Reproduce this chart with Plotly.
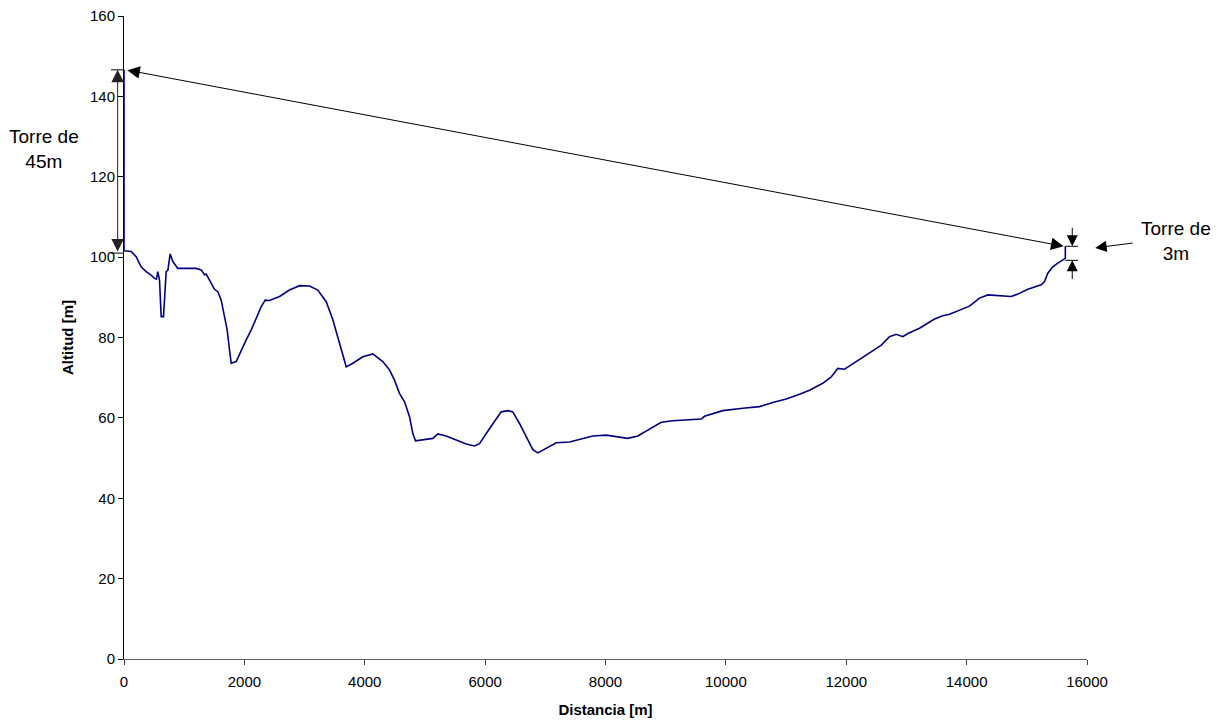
import plotly.graph_objects as go

# ---- data ----
distance_m = [
    0, 119, 202, 285, 368, 450, 507, 540, 562, 590, 618, 656, 701, 729, 767, 811,
    894, 1033, 1200, 1283, 1338, 1366, 1421, 1504, 1559, 1615, 1670, 1714, 1753,
    1781, 1864, 1947, 2030, 2114, 2197, 2280, 2346, 2418, 2584, 2750, 2916, 3082,
    3220, 3360, 3470, 3581, 3692, 3802, 3968, 4134, 4190, 4300, 4412, 4494, 4577,
    4661, 4744, 4799, 4843, 4965, 5131, 5214, 5353, 5520, 5686, 5824, 5907, 6018,
    6156, 6267, 6377, 6460, 6571, 6683, 6793, 6876, 7015, 7181, 7402, 7568, 7789,
    8011, 8178, 8371, 8537, 8731, 8926, 9118, 9400, 9590, 9645, 9949, 10282, 10559,
    10780, 11002, 11224, 11390, 11610, 11750, 11860, 11971, 12165, 12387, 12582,
    12719, 12830, 12941, 13024, 13217, 13328, 13467, 13604, 13716, 14048, 14214,
    14352, 14546, 14740, 14851, 15017, 15239, 15294, 15349, 15432, 15515, 15598,
    15640,
]
altitude_m = [
    101.6, 101.4, 100.1, 97.6, 96.4, 95.5, 94.7, 94.5, 96.4, 94.3, 85.2, 85.2, 96.4,
    96.8, 100.8, 98.9, 97.2, 97.2, 97.2, 96.8, 95.6, 95.8, 94.3, 92.0, 91.4, 89.3,
    85.2, 81.9, 76.9, 73.6, 74.0, 76.9, 79.4, 81.9, 84.8, 87.7, 89.3, 89.2, 90.2,
    91.8, 92.9, 92.8, 91.8, 88.9, 84.4, 78.5, 72.7, 73.6, 75.2, 75.9, 75.2, 74.0,
    71.9, 69.4, 66.1, 64.0, 60.3, 56.1, 54.3, 54.5, 54.9, 56.0, 55.5, 54.5, 53.5,
    53.0, 53.6, 56.1, 59.0, 61.5, 61.8, 61.5, 58.6, 55.3, 52.1, 51.3, 52.4, 53.8,
    54.0, 54.6, 55.5, 55.7, 55.3, 54.9, 55.5, 57.2, 58.9, 59.3, 59.6, 59.7, 60.4,
    61.8, 62.4, 62.8, 63.8, 64.7, 65.9, 66.9, 68.6, 70.2, 72.3, 72.1, 74.0, 76.1,
    78.1, 80.2, 80.8, 80.2, 81.0, 82.3, 83.4, 84.6, 85.4, 85.8, 87.8, 89.8, 90.6,
    90.4, 90.2, 90.8, 92.0, 93.1, 93.9, 96.0, 97.6, 98.5, 99.3, 99.7,
]
tower_left_m = 45
tower_right_m = 3
x_ticks = [0, 2000, 4000, 6000, 8000, 10000, 12000, 14000, 16000]
y_ticks = [0, 20, 40, 60, 80, 100, 120, 140, 160]
label_left = "Torre de<br>45m"
label_right = "Torre de<br>3m"
x_title = "Distancia [m]"
y_title = "Altitud [m]"

# ---- derived ----
d0, dN = distance_m[0], distance_m[-1]
a0, aN = altitude_m[0], altitude_m[-1]
top_left = a0 + tower_left_m
top_right = aN + tower_right_m

xs = [d0] + distance_m + [dN]
ys = [top_left] + altitude_m + [top_right]

FONT = "Liberation Sans, Arial, sans-serif"
NAVY = "#000080"

fig = go.Figure()
fig.add_trace(go.Scatter(x=xs, y=ys, mode="lines",
                         line=dict(color=NAVY, width=1.6), showlegend=False,
                         hoverinfo="skip"))

ann = []
# long line between tower tops
ann.append(dict(x=dN - 30, y=top_right, xref="x", yref="y",
                ax=d0 + 30, ay=top_left, axref="x", ayref="y",
                showarrow=True, arrowhead=2, arrowsize=2.5, arrowwidth=1,
                arrowside="end+start", arrowcolor="black", text=""))
# left tower double arrow
ann.append(dict(x=-0.0066, y=top_left, xref="paper", yref="y",
                ax=0, ay=a0 - 0.6, axref="pixel", ayref="y",
                showarrow=True, arrowhead=2, arrowsize=2.5, arrowwidth=1,
                arrowside="end+start", arrowcolor="#222222", text=""))
# right tower small arrows
ann.append(dict(x=dN + 115, y=top_right, xref="x", yref="y",
                ax=0, ay=-20, showarrow=True, arrowhead=2, arrowsize=2.2,
                arrowwidth=1, arrowcolor="black", text=""))
ann.append(dict(x=dN + 115, y=aN - 0.5, xref="x", yref="y",
                ax=0, ay=20, showarrow=True, arrowhead=2, arrowsize=2.2,
                arrowwidth=1, arrowcolor="black", text=""))
# pointer to right tower
ann.append(dict(x=1.0085, y=top_right - 0.4, xref="paper", yref="y",
                ax=39, ay=-5, showarrow=True, arrowhead=2, arrowsize=2.3,
                arrowwidth=1, arrowcolor="black", text=""))
# labels
ann.append(dict(x=-0.0826, y=127.0, xref="paper", yref="y", text=label_left,
                xanchor="center", yanchor="middle",
                showarrow=False, font=dict(family=FONT, size=19, color="black"),
                align="center"))
ann.append(dict(x=1.0925, y=103.9, xref="paper", yref="y", text=label_right,
                xanchor="center", yanchor="middle",
                showarrow=False, font=dict(family=FONT, size=19, color="black"),
                align="center"))

shapes = [
    dict(type="line", xref="paper", yref="y", x0=-0.0135, x1=0,
         y0=top_left, y1=top_left, line=dict(color="black", width=1)),
    dict(type="line", xref="paper", yref="y", x0=-0.0135, x1=0,
         y0=a0 - 0.6, y1=a0 - 0.6, line=dict(color="black", width=1)),
    dict(type="line", xref="x", yref="y", x0=dN, x1=dN + 210,
         y0=top_right, y1=top_right, line=dict(color="black", width=1)),
    dict(type="line", xref="x", yref="y", x0=dN, x1=dN + 210,
         y0=aN - 0.5, y1=aN - 0.5, line=dict(color="black", width=1)),
]

# page body adds an 8px offset; compensate so the plot area sits where the reference has it
fig.update_layout(
    width=1218, height=713,
    margin=dict(l=116, r=139, t=8, b=62),
    paper_bgcolor="white", plot_bgcolor="white",
    font=dict(family=FONT, size=15, color="black"),
    annotations=ann, shapes=shapes,
    xaxis=dict(range=[0, 16000], tickvals=x_ticks,
               ticktext=[str(v) for v in x_ticks], automargin=False,
               ticklabeloverflow="allow",
               showgrid=False, zeroline=False, showline=True,
               linecolor="#606060", linewidth=1, ticks="outside",
               ticklen=5, tickcolor="#404040", ticklabelstandoff=4,
               tickfont=dict(family=FONT, size=15),
               title=dict(text="<b>" + x_title + "</b>",
                          font=dict(family=FONT, size=15), standoff=15)),
    yaxis=dict(range=[0, 160], tickvals=y_ticks,
               ticktext=[str(v) for v in y_ticks], automargin=False,
               ticklabeloverflow="allow",
               showgrid=False, zeroline=False, showline=True,
               linecolor="black", linewidth=1, ticks="outside",
               ticklen=5, tickcolor="black",
               tickfont=dict(family=FONT, size=15),
               title=dict(text="<b>" + y_title + "</b>",
                          font=dict(family=FONT, size=15), standoff=12)),
)

fig.write_html("out.html")
